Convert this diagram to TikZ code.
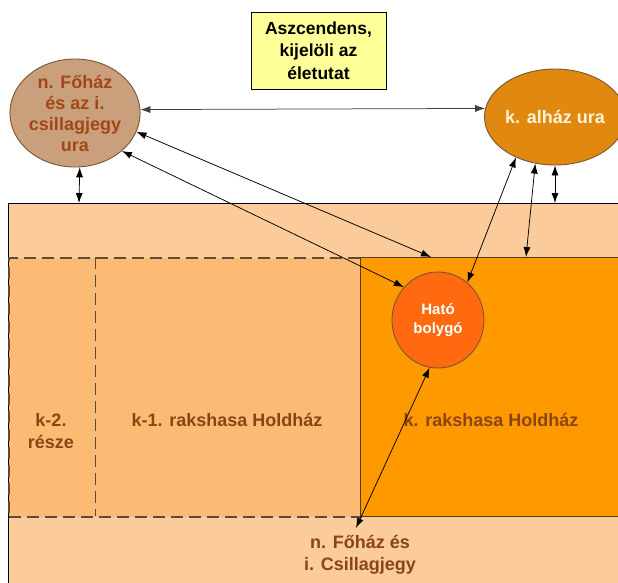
\documentclass[tikz,border=0pt]{standalone}
\usepackage{fontspec}
\setmainfont{Liberation Sans}
\usetikzlibrary{shapes.geometric,arrows.meta}
\definecolor{peach}{HTML}{FCCB9B}
\definecolor{dashfill}{HTML}{FBBB74}
\definecolor{orangebox}{HTML}{FF9900}
\definecolor{hatofill}{HTML}{FF6A10}
\definecolor{alfill}{HTML}{E0880F}
\definecolor{tanfill}{HTML}{C9A07B}
\definecolor{tantext}{HTML}{A3461A}
\definecolor{brtext}{HTML}{8B4513}
\definecolor{rim}{HTML}{7A5535}
\definecolor{dashcol}{HTML}{5E4A38}
\definecolor{yel}{HTML}{FFFF99}
\definecolor{cream}{HTML}{FFF4D6}
\begin{document}
\begin{tikzpicture}[x=1pt,y=-1pt,
  conn/.style={{Latex[length=10pt,width=7pt]}-{Latex[length=10pt,width=7pt]}, line width=0.75pt, black},
  boxlbl/.style={font=\fontsize{18}{22}\selectfont\bfseries, text=brtext, align=center},
  planet/.style={ellipse, draw=rim, line width=0.9pt, inner sep=0pt, align=center},
  area/.style={rectangle, anchor=north west, inner sep=0pt},
  dashline/.style={draw=dashcol, line width=1.6pt, dash pattern=on 12pt off 6pt}]
\useasboundingbox (0,0) rectangle (618,582);
\fill[white] (0,0) rectangle (618,582);
% areas
\node[area, fill=peach, draw=black, line width=0.8pt, minimum width=640pt, minimum height=420pt] (outer) at (8,203) {};
\node[area, fill=dashfill, dashline, minimum width=352pt, minimum height=259pt] (dreg) at (8,257) {};
\node[area, minimum width=87pt, minimum height=259pt] (k2box) at (8,257) {};
\node[area, minimum width=265pt, minimum height=259pt] (k1box) at (95,257) {};
\draw[dashline] (k2box.north east) -- (k2box.south east);
\node[area, fill=orangebox, draw=rim!70!black, line width=0.8pt, minimum width=280pt, minimum height=259pt] (kbox) at (360,257) {};
% labels
\node[boxlbl] (k2lbl) at (51,431) {k-2.\\része};
\node[boxlbl] (k1lbl) at (227,420) {k-1. rakshasa Holdház};
\node[boxlbl] (klbl) at (491,420) {k. rakshasa Holdház};
\node[boxlbl] (nlbl) at (360,555) {n. Főház és\\i. Csillagjegy};
% top box
\node[rectangle, draw=black, line width=1pt, fill=yel, minimum width=135pt, minimum height=77pt, align=center,
      font=\fontsize{17.5}{22.5}\selectfont\bfseries] (asc) at (318.5,50.5) {Aszcendens,\\kijelöli az\\életutat};
% planets
\node[planet, fill=tanfill, minimum width=110pt, minimum height=104pt, text=tantext,
      font=\fontsize{18}{21}\selectfont\bfseries] (L) at (75,113) {n. Főház\\és az i.\\csillagjegy\\ura};
\node[planet, fill=alfill, minimum width=109pt, minimum height=96pt, text=cream,
      font=\fontsize{18}{21}\selectfont\bfseries] (R) at (555,117) {k. alház ura};
\node[planet, fill=hatofill, minimum width=92pt, minimum height=96pt, text=white,
      font=\fontsize{15}{19}\selectfont\bfseries] (H) at (438,320) {Ható\\bolygó};
% free ends
\coordinate (cL) at (79,203);
\coordinate (cR) at (555,203);
\coordinate (cA) at (431,257);
\coordinate (cB) at (526,257);
\coordinate (cN) at (356,528);
% connectors
\draw[conn, black!75] (L.3) -- (R.173);
\draw[conn] (L.-17) -- (cA);
\draw[conn] (L.-39) -- (H.136);
\draw[conn] (L.-85) -- (cL);
\draw[conn] (R.-134) -- (H.52);
\draw[conn] (R.-113) -- (cB);
\draw[conn] (R.-90) -- (cR);
\draw[conn] (H.-100) -- (cN);
\end{tikzpicture}
\end{document}
